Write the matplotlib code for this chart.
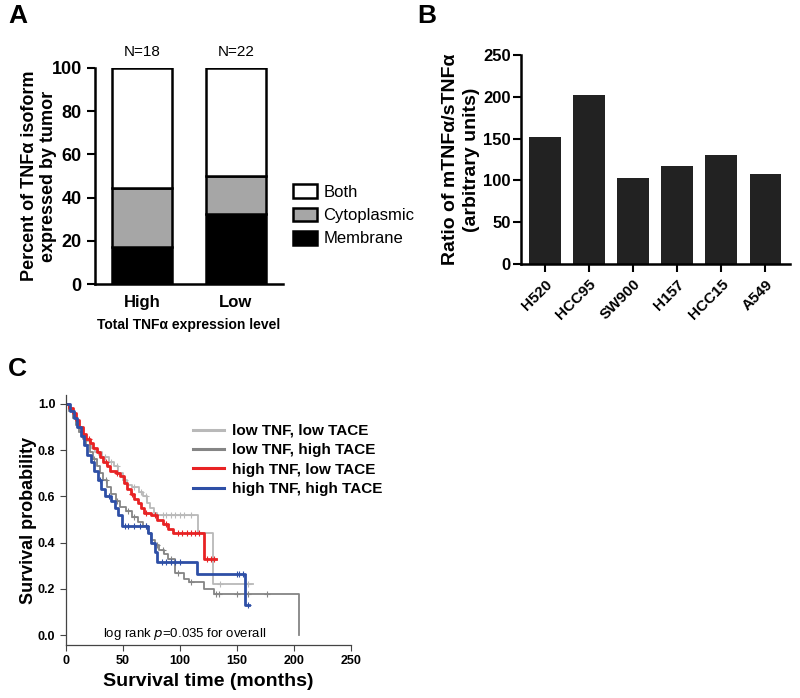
import numpy as np
import matplotlib.pyplot as plt
from matplotlib.patches import Patch
from matplotlib.lines import Line2D

plt.rcParams['font.family'] = ['Liberation Sans', 'DejaVu Sans']

# panel A
groups = ['High', 'Low']
group_n = ['N=18', 'N=22']
membrane = [17, 32.5]
cytoplasmic = [27.5, 17.5]
both = [55.5, 50]

# panel B
cell_lines = ['H520', 'HCC95', 'SW900', 'H157', 'HCC15', 'A549']
ratio = [152, 202, 103, 117, 130, 108]

# panel C, Kaplan-Meier steps
red_t = [0, 3, 6, 9, 12, 15, 18, 21, 24, 27, 30, 33, 36, 39, 44, 48, 51, 54, 57, 60, 63, 66, 69, 75, 80, 85, 90, 94, 121, 132]
red_s = [1.0, 0.98, 0.96, 0.93, 0.90, 0.87, 0.85, 0.83, 0.81, 0.79, 0.77, 0.75, 0.73, 0.71, 0.70, 0.69, 0.66, 0.63, 0.61, 0.59, 0.57, 0.55, 0.53, 0.52, 0.50, 0.48, 0.46, 0.44, 0.33, 0.33]
red_cens = [20, 35, 45, 58, 70, 78, 88, 98, 102, 106, 110, 113, 117, 124, 127, 130]

blue_t = [0, 4, 7, 10, 13, 16, 19, 22, 25, 28, 31, 34, 40, 43, 46, 49, 72, 75, 78, 80, 115, 157, 161]
blue_s = [1.0, 0.97, 0.94, 0.90, 0.86, 0.82, 0.78, 0.75, 0.71, 0.67, 0.63, 0.60, 0.58, 0.55, 0.52, 0.47, 0.44, 0.40, 0.36, 0.315, 0.265, 0.13, 0.13]
blue_cens = [30, 38, 52, 55, 60, 65, 70, 84, 88, 92, 96, 100, 150, 152, 155, 160]

light_t = [0, 3, 6, 9, 12, 15, 18, 22, 26, 32, 38, 42, 46, 50, 54, 58, 64, 68, 71, 74, 77, 80, 116, 129, 164]
light_s = [1.0, 0.97, 0.94, 0.91, 0.88, 0.86, 0.84, 0.81, 0.79, 0.77, 0.75, 0.73, 0.70, 0.67, 0.65, 0.64, 0.62, 0.60, 0.57, 0.55, 0.53, 0.52, 0.44, 0.22, 0.22]
light_cens = [28, 34, 40, 45, 52, 60, 66, 70, 85, 88, 92, 96, 100, 104, 110, 135, 160]

dark_t = [0, 3, 6, 9, 12, 15, 18, 21, 24, 27, 30, 33, 36, 40, 44, 48, 53, 58, 63, 68, 72, 75, 78, 82, 86, 90, 96, 104, 108, 121, 130, 204]
dark_s = [1.0, 0.97, 0.94, 0.91, 0.88, 0.85, 0.82, 0.79, 0.76, 0.73, 0.70, 0.67, 0.64, 0.61, 0.58, 0.555, 0.535, 0.51, 0.49, 0.47, 0.44, 0.41, 0.39, 0.37, 0.35, 0.33, 0.27, 0.245, 0.23, 0.20, 0.18, 0.0]
dark_cens = [25, 35, 45, 55, 60, 70, 80, 85, 92, 98, 110, 132, 134, 150, 160, 176]

fig = plt.figure(figsize=(8, 6.98), dpi=100)

# ---------- A ----------
axA = fig.add_axes([95/800, 1-284/698, 188/800, 216/698])
x = np.arange(len(groups))
w = 0.64
axA.bar(x, membrane, w, color='black', edgecolor='black', linewidth=1.8)
axA.bar(x, cytoplasmic, w, bottom=membrane, color='#a6a6a6', edgecolor='black', linewidth=1.8)
axA.bar(x, both, w, bottom=np.add(membrane, cytoplasmic), color='white', edgecolor='black', linewidth=1.8)
axA.set_xlim(-0.5, 1.5)
axA.set_ylim(0, 100)
axA.set_yticks([0, 20, 40, 60, 80, 100])
axA.set_xticks(x)
axA.set_xticklabels(groups, fontsize=12, fontweight='bold')
for lab in axA.get_yticklabels():
    lab.set_fontweight('bold')
    lab.set_fontsize(13)
axA.tick_params(axis='x', length=0, pad=8)
axA.tick_params(axis='y', length=6, width=1.5)
for sp in ['top', 'right']:
    axA.spines[sp].set_visible(False)
for sp in ['left', 'bottom']:
    axA.spines[sp].set_linewidth(1.8)
for xi, n in zip(x, group_n):
    axA.text(xi, 104, n, ha='center', va='bottom', fontsize=11)
axA.set_ylabel('Percent of TNFα isoform\nexpressed by tumor', fontsize=13, fontweight='bold')
axA.yaxis.set_label_coords(-0.2, 0.5)
axA.set_xlabel('Total TNFα expression level', fontsize=10, fontweight='bold', labelpad=6)
handles = [Patch(facecolor='white', edgecolor='black', linewidth=1.8, label='Both'),
           Patch(facecolor='#a6a6a6', edgecolor='black', linewidth=1.8, label='Cytoplasmic'),
           Patch(facecolor='black', edgecolor='black', linewidth=1.8, label='Membrane')]
fig.legend(handles=handles, loc='upper left', bbox_to_anchor=(285/800, 1-176/698), frameon=False,
           fontsize=12, handlelength=1.4, handleheight=0.9, labelspacing=0.45, handletextpad=0.4, borderpad=0)

# ---------- B ----------
axB = fig.add_axes([520.7/800, 1-264/698, 269/800, 209/698])
xb = np.arange(len(cell_lines))
axB.bar(xb, ratio, 0.72, color='#222222')
axB.set_xlim(-0.55, 5.55)
axB.set_ylim(0, 250)
axB.set_yticks([0, 50, 100, 150, 200, 250])
axB.set_xticks(xb)
axB.set_xticklabels(cell_lines, rotation=45, ha='right', rotation_mode='anchor', fontsize=11, fontweight='bold')
for lab in axB.get_yticklabels():
    lab.set_fontweight('bold')
    lab.set_fontsize(12)
axB.tick_params(axis='both', length=6, width=1.5)
axB.tick_params(axis='y', pad=1)
for sp in ['top', 'right']:
    axB.spines[sp].set_visible(False)
for sp in ['left', 'bottom']:
    axB.spines[sp].set_linewidth(1.8)
axB.set_ylabel('Ratio of mTNFα/sTNFα\n(arbitrary units)', fontsize=14, fontweight='bold', linespacing=1.3)
axB.yaxis.set_label_coords(-0.15, 0.5)

# ---------- C ----------
axC = fig.add_axes([65.7/800, 1-645/698, 285.3/800, 250/698])
curves = [
    (light_t, light_s, light_cens, '#b9b9b9', 1.3, 'low TNF, low TACE'),
    (dark_t, dark_s, dark_cens, '#858585', 1.3, 'low TNF, high TACE'),
    (red_t, red_s, red_cens, '#e82224', 2.0, 'high TNF, low TACE'),
    (blue_t, blue_s, blue_cens, '#2e4fa6', 2.0, 'high TNF, high TACE'),
]
for t, s, cens, col, lw, lab in curves:
    t = np.array(t)
    s = np.array(s)
    axC.step(t, s, where='post', color=col, lw=lw, label=lab)
    idx = np.searchsorted(t, cens, side='right') - 1
    axC.plot(cens, s[idx], linestyle='none', marker='+', ms=5, mew=0.8, color=col)
axC.set_xlim(0, 250)
axC.set_ylim(-0.042, 1.038)
axC.set_xticks([0, 50, 100, 150, 200, 250])
axC.set_yticks([0.0, 0.2, 0.4, 0.6, 0.8, 1.0])
axC.set_yticklabels(['0.0', '0.2', '0.4', '0.6', '0.8', '1.0'])
for lab in axC.get_xticklabels() + axC.get_yticklabels():
    lab.set_fontweight('bold')
    lab.set_fontsize(9)
axC.tick_params(axis='both', length=4, width=0.8, color='#444444')
for sp in ['top', 'right']:
    axC.spines[sp].set_visible(False)
for sp in ['left', 'bottom']:
    axC.spines[sp].set_linewidth(0.9)
    axC.spines[sp].set_color('#444444')
axC.set_xlabel('Survival time (months)', fontsize=14, fontweight='bold', labelpad=4)
axC.set_ylabel('Survival probability', fontsize=13, fontweight='bold')
axC.yaxis.set_label_coords(-0.1, 0.5)
axC.text(104, 0.005, 'log rank $\\mathit{p}$=0.035 for overall', ha='center', va='center', fontsize=9.5)
leg_handles = [Line2D([], [], color=c[3], lw=2.2) for c in curves]
axC.legend(leg_handles, [c[5] for c in curves], loc='upper left', bbox_to_anchor=(0.42, 0.915), frameon=False,
           prop={'size': 11, 'weight': 'bold'}, handlelength=2.0, handletextpad=0.55, labelspacing=0.35, borderpad=0)

# panel letters
fig.text(8/800, 1-16/698, 'A', fontsize=19, fontweight='bold', va='center')
fig.text(417/800, 1-16/698, 'B', fontsize=19, fontweight='bold', va='center')
fig.text(8/800, 1-369/698, 'C', fontsize=19, fontweight='bold', va='center')

fig.savefig('out.png', dpi=100)
